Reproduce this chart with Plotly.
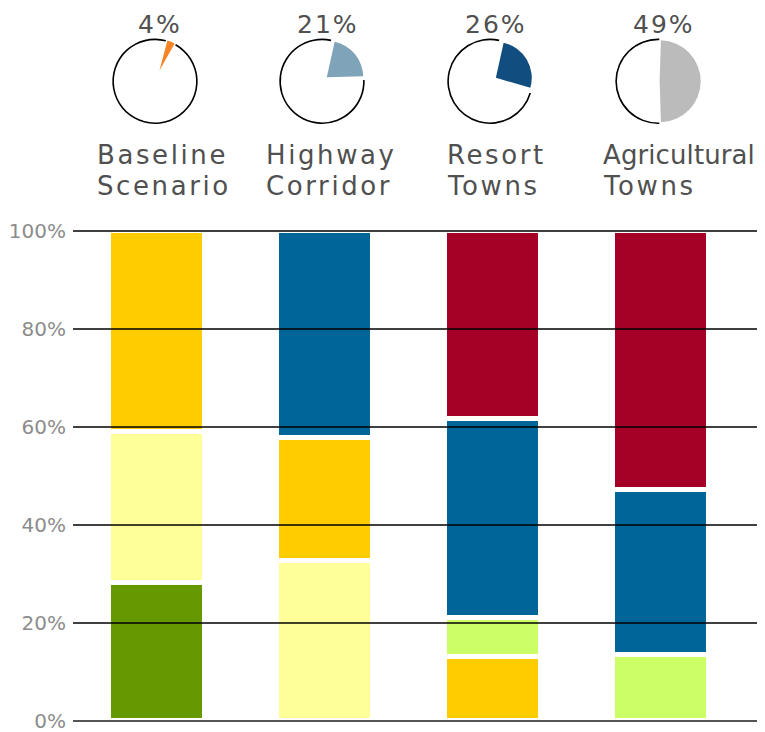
import plotly.graph_objects as go

# ---- data -------------------------------------------------------------
categories = ["Baseline Scenario", "Highway Corridor", "Resort Towns", "Agricultural Towns"]

# share of growth captured by each scenario (%)
share_pct = [4, 21, 26, 49]
share_colors = ["#F58426", "#7FA3B9", "#114D7E", "#BBBBBB"]

# composition of each scenario (% of total), listed bottom to top
green = [28.2, None, None, None]
pale_yellow = [30.7, 32.6, None, None]
gold = [41.1, 25.2, 13.1, None]
lime = [None, None, 7.9, 13.4]
blue = [None, 42.2, 40.7, 33.7]
red = [None, None, 38.3, 52.9]

y_ticks = [0, 20, 40, 60, 80, 100]
y_tick_text = [f"{v}%" for v in y_ticks]

series = [
    ("green", green, "#669900"),
    ("pale yellow", pale_yellow, "#FFFF99"),
    ("gold", gold, "#FFCC00"),
    ("lime", lime, "#CCFF66"),
    ("blue", blue, "#006699"),
    ("red", red, "#A50026"),
]

# ---- layout geometry (pixels) ----------------------------------------
W, H = 765, 732
ML, MR, MT, MB = 73, 8, 0, 11
PW, PH = W - ML - MR, H - MT - MB
STEP = 168.0                      # px between bar centres
X0 = -0.5                         # left end of the category axis
X1 = X0 + PW / STEP
Y_TOP_FRAC = (PH - 231.0) / PH    # top of the bar axis in paper units
Y_MAX = 100.0

FONT = "DejaVu Sans, Verdana, sans-serif"
TEXT_COL = "#505050"

def px_x(px):
    return (px - ML) / PW

def px_y(py):
    return (PH - py) / PH

x_pos = list(range(len(categories)))

fig = go.Figure()

for name, vals, col in series:
    fig.add_trace(go.Bar(
        x=x_pos, y=vals, name=name, width=0.571,
        marker=dict(color=col, line=dict(color="white", width=5)),
        hoverinfo="skip", showlegend=False,
    ))

# small pies above the bars
pie_cx = [155, 322, 490, 658]
pie_cy = 81.3
pie_r = 42.7
pie_rot = [15, 12.5, 12.5, 1.8]
pie_pull = [0.38, 0.17, 0.19, 0.04]

for i, (pct, col) in enumerate(zip(share_pct, share_colors)):
    dom = dict(
        x=[px_x(pie_cx[i] - pie_r), px_x(pie_cx[i] + pie_r)],
        y=[px_y(pie_cy + pie_r), px_y(pie_cy - pie_r)],
    )
    # thin outline ring around the remainder
    fig.add_trace(go.Pie(
        values=[pct, 100 - pct], sort=False, direction="clockwise",
        rotation=pie_rot[i], hole=1 - 1.6 / pie_r,
        marker=dict(colors=["rgba(0,0,0,0)", "#000000"], line=dict(width=0)),
        textinfo="none", hoverinfo="skip", showlegend=False, domain=dom,
    ))
    # highlighted share
    fig.add_trace(go.Pie(
        values=[pct, 100 - pct], sort=False, direction="clockwise",
        rotation=pie_rot[i], pull=[pie_pull[i], 0],
        marker=dict(colors=[col, "rgba(0,0,0,0)"], line=dict(width=0)),
        textinfo="none", hoverinfo="skip", showlegend=False, domain=dom,
    ))

annotations = []
for i, pct in enumerate(share_pct):
    annotations.append(dict(
        x=i + 2.5 / STEP, xref="x", y=px_y(24.2), yref="paper",
        text=f"{pct}%", showarrow=False, xanchor="center", yanchor="middle",
        font=dict(family=FONT, size=25, color=TEXT_COL),
    ))

label_left_px = [95, 264, 445, 601]
line_mid_px = [154.7, 185.7]
for i, cat in enumerate(categories):
    for j, word in enumerate(cat.split(" ")):
        annotations.append(dict(
            x=px_x(label_left_px[i]), xref="paper", y=px_y(line_mid_px[j]), yref="paper",
            text=word, showarrow=False, xanchor="left", yanchor="middle", align="left",
            font=dict(family=FONT, size=26, color=TEXT_COL),
        ))

# horizontal rules at each tick, drawn over the bars (paper refs so the
# outermost rules are not clipped by the plot area)
shapes = []
for v in y_ticks:
    yp = Y_TOP_FRAC * v / Y_MAX
    shapes.append(dict(
        type="line", xref="paper", x0=0, x1=1, yref="paper", y0=yp, y1=yp,
        layer="above",
        line=dict(color="#555555" if v == 0 else "#000000", width=2.2 if v == 0 else 1.6),
    ))

fig.update_layout(
    template="none",
    width=W, height=H,
    margin=dict(l=ML, r=MR, t=MT, b=MB, pad=0, autoexpand=False),
    barmode="stack", bargap=0,
    paper_bgcolor="white", plot_bgcolor="white",
    xaxis=dict(range=[X0, X1], visible=False, fixedrange=True, automargin=False),
    yaxis=dict(
        range=[0, Y_MAX], domain=[0, Y_TOP_FRAC],
        tickmode="array", tickvals=y_ticks, ticktext=y_tick_text,
        showgrid=False, zeroline=False, automargin=False,
        showline=False, ticks="", ticklabelstandoff=6,
        ticklabeloverflow="allow",
        tickfont=dict(family=FONT, size=20, color="#8C8C8C"),
        fixedrange=True,
    ),
    annotations=annotations,
    shapes=shapes,
)

letter_spacing_css = """
var st = document.createElement('style');
st.textContent = '.annotation-text{letter-spacing:2.6px}' +
  '.annotation-text[data-unformatted$="%"]{letter-spacing:2px}' +
  '.annotation-text[data-unformatted="Agricultural"]{letter-spacing:0.1px}';
document.head.appendChild(st);
"""

fig.write_html("out.html", post_script=letter_spacing_css)
